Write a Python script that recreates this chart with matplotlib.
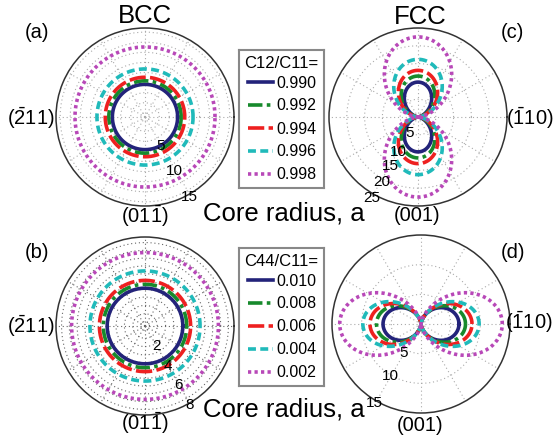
import numpy as np
import matplotlib
matplotlib.use('Agg')
from matplotlib import pyplot as plt

plt.rcParams['font.family'] = ['Liberation Sans', 'DejaVu Sans']
plt.rcParams['mathtext.fontset'] = 'custom'
plt.rcParams['mathtext.rm'] = 'Liberation Sans'

# legend values
c12_vals = ['0.990', '0.992', '0.994', '0.996', '0.998']
c44_vals = ['0.010', '0.008', '0.006', '0.004', '0.002']

# core radius (units of a)
bcc_c12_r = [5.5, 6.1, 6.7, 8.1, 11.8]      # (a) circles
bcc_c44_r = [3.4, 3.75, 4.1, 4.95, 6.6]     # (b) circles
fcc_c12_peak = [9.8, 11.5, 13.1, 16.2, 22.5]  # (c) lobe length along (001)
fcc_c44_peak = [6.4, 7.5, 8.6, 9.8, 13.7]     # (d) lobe length along (-110)
fcc_c12_shape = [1.9, 1.7, 1.6, 1.6, 1.6]
fcc_c44_shape = [1.5, 1.7, 1.8, 2.0, 2.0]

colors = ['#23237a', '#178a2c', '#ee2020', '#20baba', '#b848b8']
styles = ['-', (0, (4, 1.2, 1, 1.2)), (0, (4.5, 1.2)), (0, (2.2, 1.2)), (0, (0.9, 0.9))]

fig = plt.figure(figsize=(5.54, 4.39), dpi=100)
W, H = 554., 439.

def make_ax(cx, cy, R):
    ax = fig.add_axes([(cx - R) / W, (H - cy - R) / H, 2 * R / W, 2 * R / H],
                      projection='polar')
    return ax

theta = np.linspace(0, 2 * np.pi, 721)

def setup(ax, rmax, rings, ticks, tick_r, tick_ang, gridcol):
    ax.set_ylim(0, rmax)
    ax.set_thetagrids(np.arange(0, 360, 30), labels=[''] * 12)
    ax.set_rgrids(rings, labels=[''] * len(rings))
    ax.grid(True, linestyle=(0, (1, 2.5)), color=gridcol, linewidth=0.8)
    ax.spines['polar'].set_color('#333333')
    ax.spines['polar'].set_linewidth(1.1)
    for t, r in zip(ticks, tick_r):
        ax.text(np.deg2rad(tick_ang), r, str(t), ha='center', va='center',
                fontsize=11)

# (a) BCC, C12/C11
axa = make_ax(145, 118, 89)
for i in range(5):
    axa.plot(theta, np.full_like(theta, bcc_c12_r[i]), color=colors[i],
             ls=styles[i], lw=2.6)
setup(axa, 15, [0.7, 2.4, 4.1, 5.8, 7.5, 9.2, 10.9, 12.6, 14.3],
      [5, 10, 15], [5.4, 10.3, 15.3], -61, '#aaaaaa')

# (b) BCC, C44/C11
axb = make_ax(145, 327, 89)
for i in range(5):
    axb.plot(theta, np.full_like(theta, bcc_c44_r[i]), color=colors[i],
             ls=styles[i], lw=2.6)
setup(axb, 8, [0.4, 1.1, 1.85, 2.6, 3.3, 4.0, 4.7, 5.4, 6.1, 6.8, 7.5],
      [2, 4, 6, 8], [2.0, 4.05, 6.0, 8.05], -60, '#666666')

# (c) FCC, C12/C11
axc = make_ax(418, 118, 89)
for i in range(5):
    r = fcc_c12_peak[i] * np.abs(np.sin(theta)) ** fcc_c12_shape[i]
    axc.plot(theta, r, color=colors[i], ls=styles[i], lw=2.6)
setup(axc, 25, [5, 10, 15, 20], [5, 10, 15, 20, 25],
      [4.9, 10.9, 15.7, 20.6, 25.8], -120, '#aaaaaa')

# (d) FCC, C44/C11
axd = make_ax(421, 325, 89)
for i in range(5):
    r = fcc_c44_peak[i] * np.abs(np.cos(theta)) ** fcc_c44_shape[i]
    axd.plot(theta, r, color=colors[i], ls=styles[i], lw=2.6)
setup(axd, 15, [5, 10], [5, 10, 15], [5.6, 10.1, 15.3], -121, '#aaaaaa')

# text around the panels (pixel positions)
def ftext(x, y, s, size, ha='center'):
    fig.text(x / W, 1 - y / H, s, ha=ha, va='center', fontsize=size)

ftext(145, 16, 'BCC', 18.5)
ftext(420, 17, 'FCC', 18.5)
ftext(37, 32, '(a)', 14.5)
ftext(512, 33, '(c)', 14.5)
ftext(37, 253, '(b)', 14.5)
ftext(513, 253, '(d)', 14.5)
ftext(55, 118, r'$\mathrm{(\bar{2}11)}$', 14.5, ha='right')
ftext(55, 326, r'$\mathrm{(\bar{2}11)}$', 14.5, ha='right')
ftext(145, 216, r'$\mathrm{(01\bar{1})}$', 14.5)
ftext(145, 423, r'$\mathrm{(01\bar{1})}$', 14.5)
ftext(506, 118, r'$\mathrm{(\bar{1}10)}$', 14.5, ha='left')
ftext(505, 322, r'$\mathrm{(\bar{1}10)}$', 14.5, ha='left')
ftext(417, 216, '(001)', 14.5)
ftext(420, 426, '(001)', 14.5)
ftext(284, 213, 'Core radius, a', 18.5)
ftext(284, 410, 'Core radius, a', 18.5)

# legend boxes drawn as separate axes
def legend_box(y0, title, vals):
    lax = fig.add_axes([239 / W, 1 - (y0 + 138) / H, 85 / W, 138 / H])
    lax.set_xlim(0, 85)
    lax.set_ylim(138, 0)
    lax.set_xticks([])
    lax.set_yticks([])
    for s in lax.spines.values():
        s.set_color('#888888')
        s.set_linewidth(1.5)
    lax.text(42.5, 12, title, ha='center', va='center', fontsize=12)
    for i, v in enumerate(vals):
        y = 32 + 23 * i
        lax.plot([9, 34], [y, y], color=colors[i], ls=styles[i], lw=2.6)
        lax.text(37, y, v, ha='left', va='center', fontsize=11.5)

legend_box(51, 'C12/C11=', c12_vals)
legend_box(249, 'C44/C11=', c44_vals)

fig.savefig('out.png', dpi=100)
